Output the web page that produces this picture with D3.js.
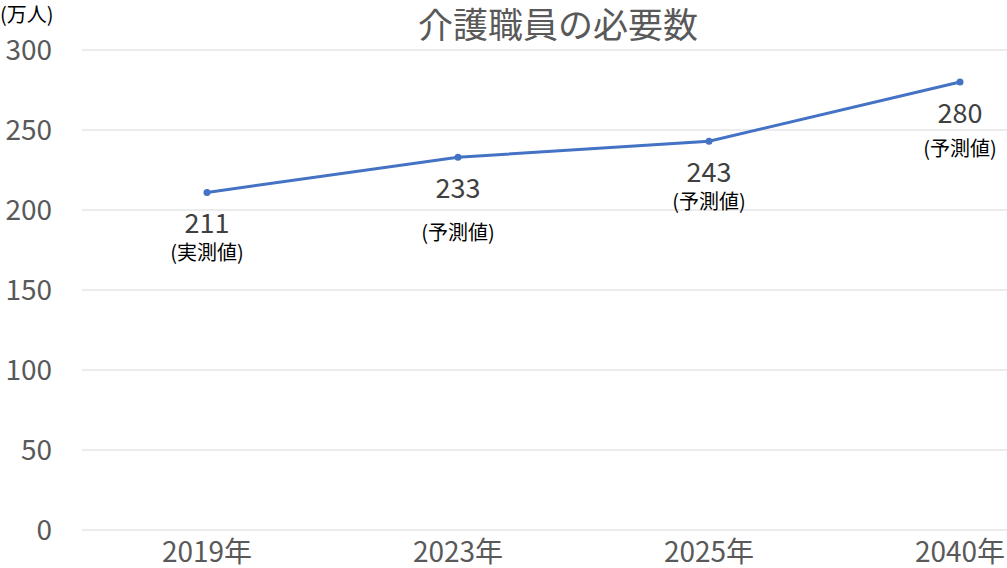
<!DOCTYPE html>
<html><head><meta charset="utf-8">
<script src="https://cdn.jsdelivr.net/npm/d3@7"></script>
<style>body{margin:0;background:#fff}</style>
</head><body>
<script>
const categories = ["2019年", "2023年", "2025年", "2040年"];
const values = [211, 233, 243, 280];
const notes = ["(実測値)", "(予測値)", "(予測値)", "(予測値)"];
const noteDy = [68, 83, 68, 74];
const yTicks = [0, 50, 100, 150, 200, 250, 300];

const W = 1007, H = 568;
const font = "'Noto Sans CJK JP', 'Noto Sans', sans-serif";
const svg = d3.select("body").append("svg").attr("width", W).attr("height", H);

const x = d3.scalePoint().domain(categories).range([207, 960]);
const y = d3.scaleLinear().domain([0, 300]).range([530, 50]);

svg.selectAll("line.grid").data(yTicks).enter().append("line")
  .attr("x1", 82).attr("x2", 1007)
  .attr("y1", d => y(d)).attr("y2", d => y(d))
  .attr("stroke", "#d9d9d9").attr("stroke-width", 1);

svg.selectAll("text.yt").data(yTicks).enter().append("text")
  .attr("x", 52).attr("y", d => y(d) + 10).attr("text-anchor", "end")
  .attr("font-family", font).attr("font-size", 28).attr("fill", "#595959")
  .text(d => d);

svg.selectAll("text.xt").data(categories).enter().append("text")
  .attr("x", d => x(d)).attr("y", 562).attr("text-anchor", "middle")
  .attr("font-family", font).attr("font-size", 28).attr("fill", "#595959")
  .text(d => d);

const line = d3.line().x((d, i) => x(categories[i])).y(d => y(d));
svg.append("path").datum(values).attr("d", line)
  .attr("fill", "none").attr("stroke", "#4472c4").attr("stroke-width", 3);

svg.selectAll("circle").data(values).enter().append("circle")
  .attr("cx", (d, i) => x(categories[i])).attr("cy", d => y(d)).attr("r", 3.5)
  .attr("fill", "#4472c4");

svg.selectAll("text.val").data(values).enter().append("text")
  .attr("x", (d, i) => x(categories[i])).attr("y", d => y(d) + 41)
  .attr("text-anchor", "middle").attr("font-family", font).attr("font-size", 27)
  .attr("fill", "#404040").text(d => d);

svg.selectAll("text.note").data(values).enter().append("text")
  .attr("x", (d, i) => x(categories[i])).attr("y", (d, i) => y(d) + noteDy[i])
  .attr("text-anchor", "middle").attr("font-family", font).attr("font-size", 20)
  .attr("fill", "#000").text((d, i) => notes[i]);

svg.append("text").attr("x", 558).attr("y", 38).attr("text-anchor", "middle")
  .attr("font-family", font).attr("font-size", 35).attr("fill", "#595959")
  .text("介護職員の必要数");

svg.append("text").attr("x", 0).attr("y", 22)
  .attr("font-family", font).attr("font-size", 20).attr("fill", "#000")
  .text("(万人)");
</script>
</body></html>
